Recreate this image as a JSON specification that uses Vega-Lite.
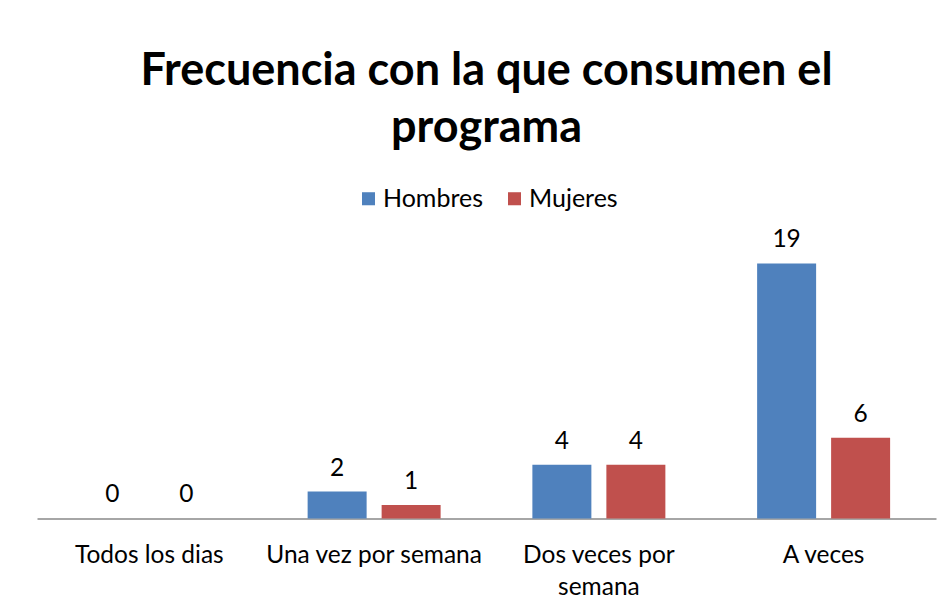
{
  "$schema": "https://vega.github.io/schema/vega-lite/v6.json",
  "width": 899,
  "height": 268.4,
  "autosize": {"type": "none"},
  "padding": {"left": 37, "top": 250, "right": 16, "bottom": 92},
  "background": "white",
  "title": {
    "text": ["Frecuencia con la que consumen el", "programa"],
    "font": "Lato",
    "fontSize": 45,
    "fontWeight": "bold",
    "color": "#000000",
    "lineHeight": 57,
    "anchor": "middle",
    "offset": 35
  },
  "data": {
    "values": [
      {"frecuencia": "Todos los dias", "sexo": "Hombres", "valor": 0},
      {"frecuencia": "Todos los dias", "sexo": "Mujeres", "valor": 0},
      {"frecuencia": "Una vez por semana", "sexo": "Hombres", "valor": 2},
      {"frecuencia": "Una vez por semana", "sexo": "Mujeres", "valor": 1},
      {"frecuencia": "Dos veces por semana", "sexo": "Hombres", "valor": 4},
      {"frecuencia": "Dos veces por semana", "sexo": "Mujeres", "valor": 4},
      {"frecuencia": "A veces", "sexo": "Hombres", "valor": 19},
      {"frecuencia": "A veces", "sexo": "Mujeres", "valor": 6}
    ]
  },
  "encoding": {
    "x": {
      "field": "frecuencia",
      "type": "nominal",
      "sort": ["Todos los dias", "Una vez por semana", "Dos veces por semana", "A veces"],
      "scale": {"paddingInner": 0, "paddingOuter": 0},
      "axis": {
        "title": null,
        "labelAngle": 0,
        "ticks": false,
        "domainColor": "#888888",
        "domainWidth": 1.5,
        "labelFont": "Lato",
        "labelFontSize": 24.5,
        "labelColor": "#000000",
        "labelPadding": 25,
        "labelLineHeight": 32,
        "labelLimit": 400,
        "labelExpr": "datum.value == 'Dos veces por semana' ? ['Dos veces por', 'semana'] : datum.value"
      }
    },
    "xOffset": {
      "field": "sexo",
      "type": "nominal",
      "sort": ["Hombres", "Mujeres"],
      "scale": {"paddingInner": 0.2027, "paddingOuter": 0.62}
    },
    "y": {
      "field": "valor",
      "type": "quantitative",
      "scale": {"domain": [0, 20]},
      "axis": null
    }
  },
  "layer": [
    {
      "mark": {"type": "bar"},
      "encoding": {
        "color": {
          "field": "sexo",
          "type": "nominal",
          "sort": ["Hombres", "Mujeres"],
          "scale": {"domain": ["Hombres", "Mujeres"], "range": ["#4F81BD", "#C0504D"]},
          "legend": {
            "title": null,
            "orient": "none",
            "direction": "horizontal",
            "legendX": 319,
            "legendY": -64,
            "symbolType": "square",
            "symbolSize": 170,
            "symbolStrokeWidth": 0,
            "labelFont": "Lato",
            "labelFontSize": 25,
            "labelColor": "#000000",
            "labelOffset": 2,
            "columnPadding": 18
          }
        }
      }
    },
    {
      "mark": {"type": "text", "baseline": "alphabetic", "dy": -16, "font": "Lato", "fontSize": 24.5, "color": "#000000"},
      "encoding": {
        "text": {"field": "valor", "type": "quantitative"}
      }
    }
  ],
  "config": {
    "view": {"stroke": null}
  }
}
